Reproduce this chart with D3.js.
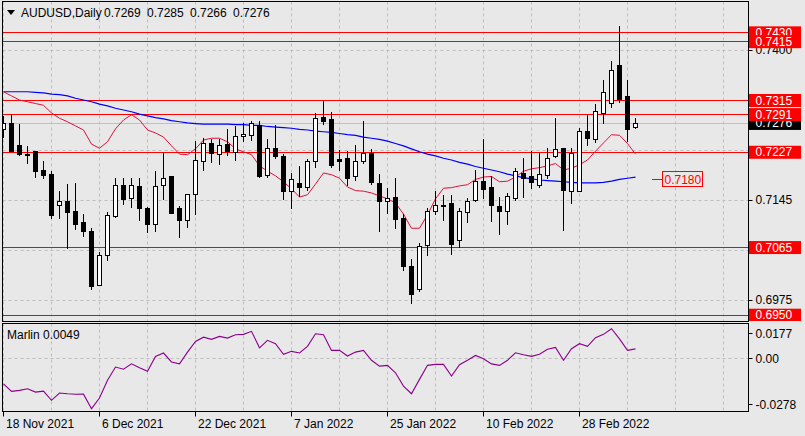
<!DOCTYPE html>
<html><head><meta charset="utf-8">
<script src="https://cdn.jsdelivr.net/npm/d3@7"></script>
<style>
html,body{margin:0;padding:0;background:#e8e8e8;}
svg{display:block;font-family:"Liberation Sans",Arial,sans-serif;}
</style></head><body>
<svg id="c" width="805" height="436"></svg>
<script>
// ---------- DATA ----------
const dates = ["2021-11-18","2021-11-19","2021-11-22","2021-11-23","2021-11-24","2021-11-25","2021-11-26","2021-11-29","2021-11-30","2021-12-01","2021-12-02","2021-12-03","2021-12-06","2021-12-07","2021-12-08","2021-12-09","2021-12-10","2021-12-13","2021-12-14","2021-12-15","2021-12-16","2021-12-17","2021-12-20","2021-12-21","2021-12-22","2021-12-23","2021-12-24","2021-12-27","2021-12-28","2021-12-29","2021-12-30","2021-12-31","2022-01-03","2022-01-04","2022-01-05","2022-01-06","2022-01-07","2022-01-10","2022-01-11","2022-01-12","2022-01-13","2022-01-14","2022-01-17","2022-01-18","2022-01-19","2022-01-20","2022-01-21","2022-01-24","2022-01-25","2022-01-26","2022-01-27","2022-01-28","2022-01-31","2022-02-01","2022-02-02","2022-02-03","2022-02-04","2022-02-07","2022-02-08","2022-02-09","2022-02-10","2022-02-11","2022-02-14","2022-02-15","2022-02-16","2022-02-17","2022-02-18","2022-02-21","2022-02-22","2022-02-23","2022-02-24","2022-02-25","2022-02-28","2022-03-01","2022-03-02","2022-03-03","2022-03-04","2022-03-07","2022-03-08","2022-03-09"];

const open  = [0.7265,0.7276,0.7238,0.7224,0.7228,0.7196,0.7189,0.7137,0.7143,0.7126,0.7108,0.7092,0.7001,0.7051,0.7118,0.7171,0.7148,0.7169,0.7132,0.7104,0.7170,0.7185,0.7132,0.7111,0.7155,0.7211,0.7242,0.7224,0.7240,0.7227,0.7254,0.7256,0.7272,0.7188,0.7233,0.7220,0.7160,0.7174,0.7167,0.7211,0.7286,0.7283,0.7215,0.7216,0.7185,0.7211,0.7225,0.7174,0.7143,0.7150,0.7115,0.7032,0.6993,0.7068,0.7127,0.7137,0.7140,0.7077,0.7124,0.7145,0.7178,0.7167,0.7134,0.7126,0.7149,0.7191,0.7185,0.7171,0.7188,0.7219,0.7233,0.7161,0.7161,0.7262,0.7248,0.7293,0.7310,0.7374,0.7321,0.7269];
const high  = [0.7287,0.7291,0.7274,0.7236,0.7229,0.7211,0.7194,0.7160,0.7172,0.7174,0.7121,0.7098,0.7056,0.7124,0.7183,0.7183,0.7183,0.7183,0.7133,0.7195,0.7225,0.7186,0.7134,0.7156,0.7245,0.7251,0.7248,0.7248,0.7265,0.7271,0.7276,0.7279,0.7279,0.7249,0.7272,0.7224,0.7191,0.7202,0.7215,0.7293,0.7314,0.7295,0.7230,0.7229,0.7238,0.7279,0.7232,0.7189,0.7165,0.7182,0.7121,0.7045,0.7072,0.7131,0.7160,0.7154,0.7153,0.7131,0.7148,0.7196,0.7249,0.7185,0.7150,0.7157,0.7199,0.7217,0.7229,0.7225,0.7234,0.7284,0.7234,0.7233,0.7267,0.7289,0.7308,0.7349,0.7381,0.7441,0.7349,0.7285];
const low   = [0.7250,0.7228,0.7220,0.7207,0.7182,0.7180,0.7113,0.7113,0.7062,0.7094,0.7082,0.6992,0.6999,0.7041,0.7115,0.7136,0.7132,0.7110,0.7089,0.7091,0.7145,0.7122,0.7081,0.7098,0.7119,0.7195,0.7208,0.7204,0.7219,0.7211,0.7244,0.7245,0.7183,0.7183,0.7215,0.7145,0.7130,0.7150,0.7160,0.7199,0.7273,0.7199,0.7195,0.7168,0.7177,0.7206,0.7171,0.7090,0.7121,0.7096,0.7024,0.6968,0.6988,0.7049,0.7119,0.7110,0.7052,0.7064,0.7106,0.7141,0.7147,0.7107,0.7086,0.7102,0.7144,0.7148,0.7164,0.7165,0.7181,0.7216,0.7093,0.7138,0.7159,0.7237,0.7242,0.7275,0.7302,0.7310,0.7244,0.7266];
const close = [0.7276,0.7229,0.7224,0.7223,0.7195,0.7188,0.7120,0.7143,0.7125,0.7104,0.7093,0.6999,0.7051,0.7119,0.7171,0.7147,0.7170,0.7131,0.7104,0.7169,0.7183,0.7123,0.7111,0.7155,0.7213,0.7242,0.7225,0.7238,0.7228,0.7254,0.7257,0.7276,0.7186,0.7234,0.7220,0.7161,0.7181,0.7167,0.7211,0.7284,0.7280,0.7205,0.7212,0.7183,0.7211,0.7225,0.7176,0.7144,0.7149,0.7113,0.7033,0.6986,0.7066,0.7127,0.7136,0.7136,0.7071,0.7126,0.7144,0.7178,0.7164,0.7136,0.7126,0.7151,0.7194,0.7183,0.7175,0.7189,0.7217,0.7232,0.7162,0.7225,0.7262,0.7250,0.7296,0.7329,0.7366,0.7317,0.7266,0.7276];

const maSlow = [0.7329,0.7329,0.7329,0.7329,0.7328,0.7327,0.7325,0.7324,0.7322,0.7318,0.7315,0.7312,0.7308,0.7305,0.7301,0.7298,0.7295,0.7291,0.7288,0.7285,0.7283,0.7280,0.7278,0.7276,0.7275,0.7274,0.7274,0.7274,0.7274,0.7273,0.7273,0.7272,0.7272,0.7270,0.7269,0.7268,0.7267,0.7265,0.7264,0.7262,0.7261,0.7260,0.7258,0.7256,0.7255,0.7252,0.7250,0.7248,0.7245,0.7241,0.7237,0.7232,0.7227,0.7223,0.7220,0.7216,0.7213,0.7209,0.7206,0.7202,0.7199,0.7196,0.7193,0.7189,0.7186,0.7183,0.7181,0.7179,0.7178,0.7177,0.7176,0.7175,0.7174,0.7174,0.7174,0.7175,0.7177,0.7180,0.7182,0.7184];
const maFast = [0.7329,0.7322,0.7315,0.7312,0.7309,0.7306,0.7293,0.7284,0.7278,0.7271,0.7264,0.7240,0.7233,0.7244,0.7266,0.7281,0.7290,0.7281,0.7264,0.7259,0.7252,0.7237,0.7223,0.7222,0.7232,0.7247,0.7250,0.7250,0.7244,0.7232,0.7227,0.7222,0.7203,0.7194,0.7186,0.7176,0.7164,0.7150,0.7154,0.7172,0.7191,0.7188,0.7182,0.7167,0.7161,0.7160,0.7157,0.7152,0.7147,0.7140,0.7121,0.7097,0.7097,0.7120,0.7147,0.7165,0.7166,0.7169,0.7171,0.7180,0.7184,0.7185,0.7176,0.7177,0.7184,0.7194,0.7198,0.7200,0.7203,0.7207,0.7196,0.7199,0.7205,0.7213,0.7228,0.7242,0.7256,0.7255,0.7241,0.7223];

const marlin = [-0.0138,-0.0178,-0.0173,-0.0164,-0.0182,-0.0177,-0.0226,-0.0187,-0.0191,-0.0194,-0.0193,-0.0271,-0.0214,-0.0119,-0.0048,-0.0060,-0.0031,-0.0052,-0.0071,0.0009,0.0027,-0.0021,-0.0031,0.0032,0.0089,0.0112,0.0100,0.0116,0.0107,0.0125,0.0127,0.0143,0.0055,0.0095,0.0077,0.0020,0.0036,0.0027,0.0063,0.0130,0.0125,0.0041,0.0041,0.0011,0.0032,0.0041,-0.0012,-0.0043,-0.0039,-0.0079,-0.0150,-0.0191,-0.0114,-0.0039,-0.0034,-0.0034,-0.0096,-0.0036,-0.0012,0.0014,-0.0004,-0.0031,-0.0039,-0.0012,0.0028,0.0018,0.0009,0.0020,0.0047,0.0057,-0.0012,0.0050,0.0077,0.0063,0.0109,0.0127,0.0157,0.0103,0.0041,0.0049];

const levels = [0.7430, 0.7415, 0.7315, 0.7291, 0.7227, 0.7065, 0.6950];
const targetLevel = 0.7180;
const lastPrice = 0.7276;
const priceTicks = [0.7400, 0.7315, 0.7230, 0.7145, 0.7060, 0.6975];
const visiblePriceLabels = [0.7400, 0.7145, 0.6975];  // others are covered by level labels
const marlinTicks = [0.0177, 0.00, -0.0278];
const marlinTickLabels = ["0.0177", "0.00", "-0.0278"];
const dateTicks = ["2021-11-18","2021-12-06","2021-12-22","2022-01-07","2022-01-25","2022-02-10","2022-02-28"];
const dateTickLabels = ["18 Nov 2021","6 Dec 2021","22 Dec 2021","7 Jan 2022","25 Jan 2022","10 Feb 2022","28 Feb 2022"];
const symbolLabel = "AUDUSD,Daily";
const headerValues = ["0.7269","0.7285","0.7266","0.7276"];
const marlinLabel = "Marlin 0.0049";

// ---------- LAYOUT ----------
const L = 2.5, R = 748.5, T = 1.5, B = 321.5;   // main panel
const T2 = 323.5, B2 = 411.5;                   // indicator panel
const BAR = 8;

const svg = d3.select("#c");
const x = d3.scaleLinear().domain([0, 1]).range([3.5, 3.5 + BAR]);
const y = d3.scaleLinear().domain([0.6975, 0.7400]).range([300, 50]);
const ym = d3.scaleLinear().domain([-0.0278, 0.0177]).range([410, 325]);
const idx = d => dates.indexOf(d);

svg.append("rect").attr("width",805).attr("height",436).attr("fill","#e8e8e8");

const defs = svg.append("defs");
defs.append("clipPath").attr("id","cm").append("rect").attr("x",L).attr("y",T).attr("width",R-L).attr("height",B-T);
defs.append("clipPath").attr("id","ci").append("rect").attr("x",L).attr("y",T2).attr("width",R-L).attr("height",B2-T2);
defs.append("clipPath").attr("id","cr").append("rect").attr("x",R).attr("y",0).attr("width",60).attr("height",B-0.5);

const gridCols = d3.range(0, 200, 6).filter(i => x(i) < R);
const grid = "#bdbdbd";

// main panel
const gm = svg.append("g").attr("clip-path","url(#cm)");
gm.selectAll(".vg").data(gridCols).join("line")
  .attr("x1",d=>x(d)).attr("x2",d=>x(d)).attr("y1",T).attr("y2",B)
  .attr("stroke",grid).attr("stroke-dasharray","3,3");
gm.selectAll(".hg").data(priceTicks).join("line")
  .attr("x1",L).attr("x2",R).attr("y1",d=>Math.round(y(d))+0.5).attr("y2",d=>Math.round(y(d))+0.5)
  .attr("stroke",grid).attr("stroke-dasharray","3,3");
gm.append("line").attr("x1",L).attr("x2",R)
  .attr("y1",Math.round(y(lastPrice))+0.5).attr("y2",Math.round(y(lastPrice))+0.5)
  .attr("stroke","#c0c0c0");
gm.selectAll(".lv").data(levels).join("line")
  .attr("x1",L).attr("x2",R).attr("y1",d=>Math.round(y(d))+0.5).attr("y2",d=>Math.round(y(d))+0.5)
  .attr("stroke","#ff0000").attr("stroke-width",1.2);

const lineGen = arr => d3.line().x((d,i)=>x(i)).y(d=>y(d))(arr);
gm.append("path").attr("d",lineGen(maSlow)).attr("fill","none").attr("stroke","#0000ff").attr("stroke-width",1.2);
gm.append("path").attr("d",lineGen(maFast)).attr("fill","none").attr("stroke","#e0103a").attr("stroke-width",1);

const bars = d3.range(dates.length);
gm.selectAll(".wick").data(bars).join("line")
  .attr("x1",i=>x(i)).attr("x2",i=>x(i))
  .attr("y1",i=>Math.round(y(high[i]))).attr("y2",i=>Math.round(y(low[i])))
  .attr("stroke","#000");
gm.selectAll(".body").data(bars).join("rect")
  .attr("x",i=> close[i]>=open[i] ? x(i)-2 : x(i)-2.5)
  .attr("width",i=> close[i]>=open[i] ? 4 : 5)
  .attr("y",i=>{const t=Math.round(y(Math.max(open[i],close[i]))); return close[i]>=open[i] ? t+0.5 : t;})
  .attr("height",i=>{const h=Math.max(1,Math.round(y(Math.min(open[i],close[i])))-Math.round(y(Math.max(open[i],close[i])))); return close[i]>=open[i] ? Math.max(1,h) : h+1;})
  .attr("fill",i=> close[i]>=open[i] ? "#ffffff" : "#000000")
  .attr("stroke",i=> close[i]>=open[i] ? "#000" : "none");

// target label
const ty = Math.round(y(targetLevel))+0.5;
svg.append("line").attr("x1",652).attr("x2",662).attr("y1",ty).attr("y2",ty).attr("stroke","#ff0000");
svg.append("rect").attr("x",662.5).attr("y",ty-8).attr("width",40).attr("height",15)
  .attr("fill","none").attr("stroke","#ff0000");
svg.append("text").attr("x",664.5).attr("y",ty+4.5).attr("font-size",12).attr("fill","#ff0000").text(targetLevel.toFixed(4));

// indicator panel
const gi = svg.append("g").attr("clip-path","url(#ci)");
gi.selectAll(".vg").data(gridCols).join("line")
  .attr("x1",d=>x(d)).attr("x2",d=>x(d)).attr("y1",T2).attr("y2",B2)
  .attr("stroke",grid).attr("stroke-dasharray","3,3");
gi.append("line").attr("x1",L).attr("x2",R).attr("y1",Math.round(ym(0))+0.5).attr("y2",Math.round(ym(0))+0.5)
  .attr("stroke",grid).attr("stroke-dasharray","3,3");
gi.append("path").attr("d",d3.line().x((d,i)=>x(i)).y(d=>ym(d))(marlin))
  .attr("fill","none").attr("stroke","#8b008b").attr("stroke-width",1.1);
svg.append("text").attr("x",7).attr("y",339).attr("font-size",12).attr("fill","#000").text(marlinLabel);

// frames
svg.append("rect").attr("x",L).attr("y",T).attr("width",R-L).attr("height",B-T).attr("fill","none").attr("stroke","#000");
svg.append("rect").attr("x",L).attr("y",T2).attr("width",R-L).attr("height",B2-T2).attr("fill","none").attr("stroke","#000");

// right price axis
const ax = svg.append("g").attr("transform",`translate(${R},0)`)
  .call(d3.axisRight(y).tickValues(priceTicks)
    .tickFormat(d => visiblePriceLabels.includes(d) ? d3.format(".4f")(d) : "")
    .tickSize(4).tickPadding(3));
ax.select(".domain").remove();
ax.selectAll("text").attr("font-size",12).attr("font-family","Liberation Sans, Arial, sans-serif").attr("fill","#000");
ax.selectAll("line").attr("stroke","#000");

const gr = svg.append("g").attr("clip-path","url(#cr)");
const cy = y(lastPrice);
gr.append("rect").attr("x",R+0.5).attr("y",cy-6).attr("width",52).attr("height",13).attr("fill","#000");
gr.append("text").attr("x",R+7).attr("y",cy+4.5).attr("font-size",12).attr("fill","#fff").text(lastPrice.toFixed(4));
levels.forEach(v=>{
  const ly = y(v);
  gr.append("rect").attr("x",R+0.5).attr("y",ly-6).attr("width",52).attr("height",13).attr("fill","#ff0000");
  gr.append("text").attr("x",R+7).attr("y",ly+4.5).attr("font-size",12).attr("fill","#fff").text(v.toFixed(4));
});

// indicator axis
marlinTicks.forEach((v,k)=>{
  const py = Math.min(Math.max(ym(v), 333), 404);
  svg.append("line").attr("x1",R).attr("x2",R+4).attr("y1",Math.round(py)+0.5).attr("y2",Math.round(py)+0.5).attr("stroke","#000");
  svg.append("text").attr("x",R+7).attr("y",py+4.5).attr("font-size",12).attr("fill","#000").text(marlinTickLabels[k]);
});

// date axis
dateTicks.forEach((d,k)=>{
  const px = x(idx(d));
  svg.append("line").attr("x1",px).attr("x2",px).attr("y1",B2).attr("y2",B2+5).attr("stroke","#000");
  svg.append("text").attr("x",px+2.5).attr("y",427.5).attr("font-size",12).attr("fill","#000").text(dateTickLabels[k]);
});

// header
svg.append("path").attr("d","M7,10 L15,10 L11,15 Z").attr("fill","#000");
svg.append("text").attr("x",21).attr("y",17).attr("font-size",12).attr("fill","#000").text(symbolLabel);
headerValues.forEach((v,k)=>{
  svg.append("text").attr("x",104 + 43*k).attr("y",17).attr("font-size",12).attr("fill","#000").text(v);
});
</script>
</body></html>
